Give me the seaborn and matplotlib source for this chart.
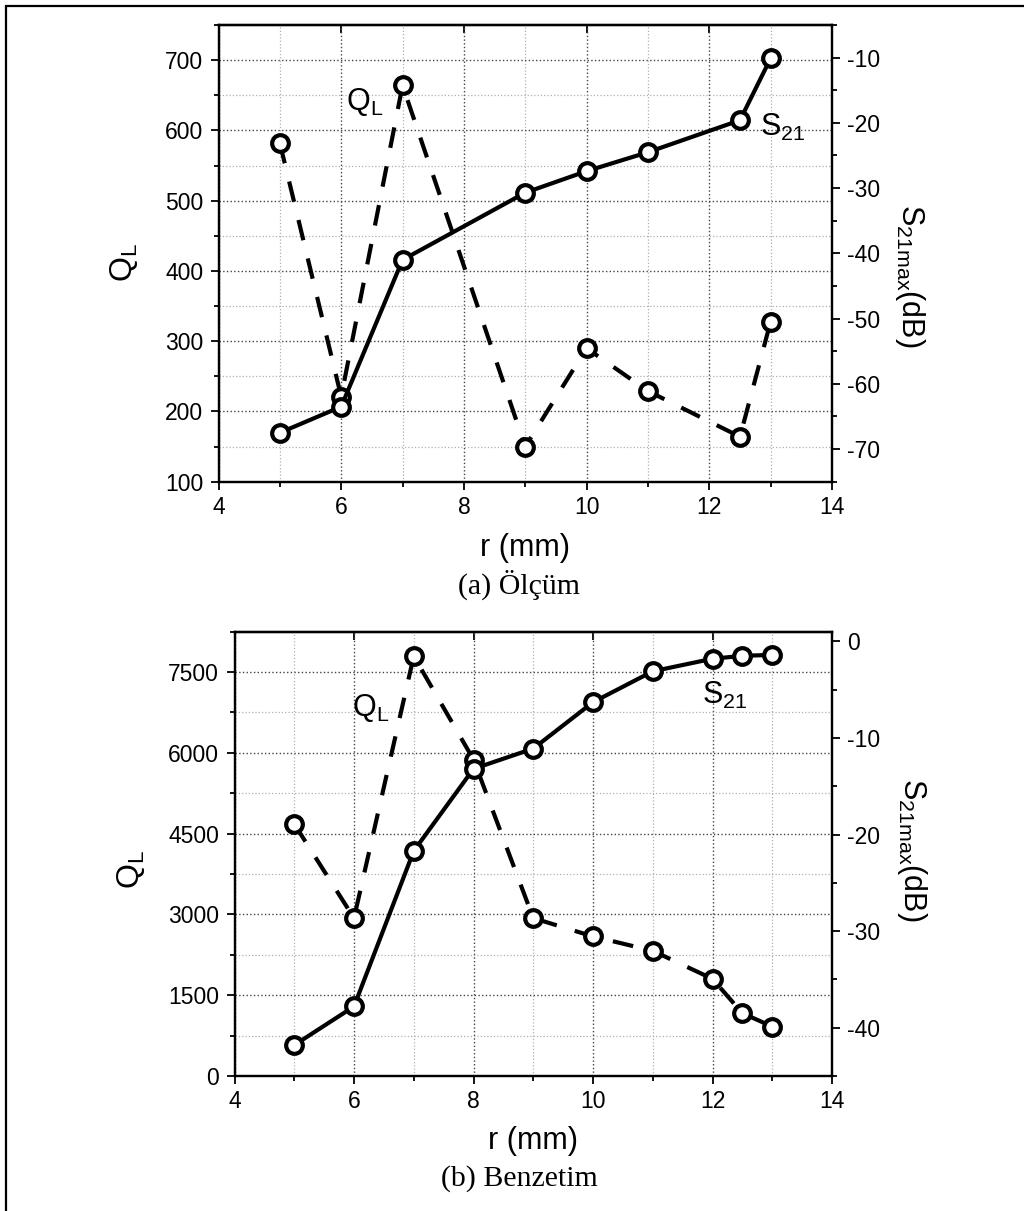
import matplotlib
matplotlib.use('Agg')
import matplotlib.pyplot as plt
import seaborn as sns
from matplotlib.ticker import MultipleLocator
from matplotlib.patches import Rectangle

# (a) Ölçüm - measured
r_meas = [5, 6, 7, 9, 10, 11, 12.5, 13]
ql_meas = [582, 221, 664, 150, 290, 229, 164, 328]
s21_meas = [-67.5, -63.5, -41.0, -30.7, -27.4, -24.5, -19.6, -10.1]

# (b) Benzetim - simulation
r_sim = [5, 6, 7, 8, 9, 10, 11, 12, 12.5, 13]
ql_sim = [4680, 2932, 7797, 5876, 2932, 2591, 2324, 1804, 1166, 918]
s21_sim = [-41.8, -37.8, -21.7, -13.2, -11.1, -6.3, -3.1, -1.8, -1.5, -1.4]

captions = ['(a) Ölçüm', '(b) Benzetim']

sns.set_style('white')
plt.rcParams['font.family'] = ['Liberation Sans', 'DejaVu Sans']
plt.rcParams['mathtext.default'] = 'regular'
plt.rcParams['axes.unicode_minus'] = False
plt.rcParams['text.color'] = 'black'
plt.rcParams['axes.labelcolor'] = 'black'
plt.rcParams['xtick.color'] = 'black'
plt.rcParams['ytick.color'] = 'black'

line_kw = dict(color='black', linewidth=3, marker='o', markersize=12,
               markerfacecolor='white', markeredgecolor='black',
               markeredgewidth=3)

fig = plt.figure(figsize=(10.24, 12.11), dpi=100)
H = 1211.0
W = 1024.0


def make_panel(rect, r, ql, s21, ql_lim, ql_major, ql_minor, s_lim, s_major,
               s_minor, ql_text, s_text, ylab_pos, rlab_pos, caption, cap_y):
    ax = fig.add_axes(rect)
    ax2 = ax.twinx()

    sns.lineplot(x=r, y=ql, ax=ax, linestyle='--', **line_kw)
    ax.lines[-1].set_dashes((5, 4.5))
    sns.lineplot(x=r, y=s21, ax=ax2, linestyle='-', **line_kw)

    ax.set_xlim(4, 14)
    ax.set_ylim(*ql_lim)
    ax2.set_ylim(*s_lim)
    ax.xaxis.set_major_locator(MultipleLocator(2))
    ax.xaxis.set_minor_locator(MultipleLocator(1))
    ax.yaxis.set_major_locator(MultipleLocator(ql_major))
    ax.yaxis.set_minor_locator(MultipleLocator(ql_minor))
    ax2.yaxis.set_major_locator(MultipleLocator(s_major))
    ax2.yaxis.set_minor_locator(MultipleLocator(s_minor))

    ax.grid(which='major', linestyle=':', color='#444444', linewidth=1.0)
    ax.grid(which='minor', linestyle=':', color='#b0b0b0', linewidth=0.9)
    ax.set_axisbelow(True)

    for a in (ax, ax2):
        for sp in a.spines.values():
            sp.set_linewidth(1.6)
            sp.set_color('black')
    ax.tick_params(which='both', direction='out', width=1.3,
                   labelsize=16.5, bottom=True, left=True, top=False,
                   right=False)
    ax.tick_params(which='major', length=6)
    ax.tick_params(which='minor', length=3.5)
    ax.tick_params(axis='y', pad=5)
    ax.tick_params(axis='x', pad=4)
    ax2.tick_params(which='both', direction='out', width=1.3,
                    labelsize=16.5, right=True, left=False, pad=5)
    ax2.tick_params(which='major', length=6)
    ax2.tick_params(which='minor', length=3.5)

    top = ax.secondary_xaxis('top')
    top.xaxis.set_major_locator(MultipleLocator(2))
    top.tick_params(direction='in', length=6, width=1.3, labeltop=False)
    top.spines['top'].set_linewidth(1.6)

    ax.set_xlabel('r (mm)', fontsize=22)
    ax.xaxis.set_label_coords(0.5, -0.112)
    ax.set_ylabel('Q$_L$', fontsize=23)
    ax.yaxis.set_label_coords(*ylab_pos)
    ax2.set_ylabel('S$_{21max}$(dB)', fontsize=22, rotation=-90, va='bottom')
    ax2.yaxis.set_label_coords(*rlab_pos)

    ax.text(ql_text[0], ql_text[1], 'Q$_L$', fontsize=22, ha='left',
            va='baseline')
    ax.text(s_text[0], s_text[1], 'S$_{21}$', fontsize=22, ha='left',
            va='baseline')

    fig.text(0.507, cap_y, caption, fontsize=21.5, ha='center', va='center',
             family='Liberation Serif')
    return ax, ax2


make_panel([218.5 / W, 1 - 481.7 / H, 613.5 / W, 456.7 / H],
           r_meas, ql_meas, s21_meas,
           (100, 750), 100, 50, (-75, -5), 10, 5,
           (6.08, 629), (12.82, 592),
           (-0.128, 0.48), (1.10, 0.45),
           captions[0], 1 - 584.5 / H)

make_panel([234.5 / W, 1 - 1076 / H, 597.5 / W, 444.3 / H],
           r_sim, ql_sim, s21_sim,
           (0, 8250), 1500, 750, (-45, 1), 10, 5,
           (5.96, 6688), (11.82, 6911),
           (-0.146, 0.464), (1.105, 0.509),
           captions[1], 1 - 1179 / H)

# outer frame of the figure
fig.add_artist(Rectangle((6 / W, -0.2), 1.2, 1.2 - 6 / H,
                         transform=fig.transFigure, fill=False,
                         edgecolor='black', linewidth=1.6))

fig.savefig('out.png', dpi=100)
